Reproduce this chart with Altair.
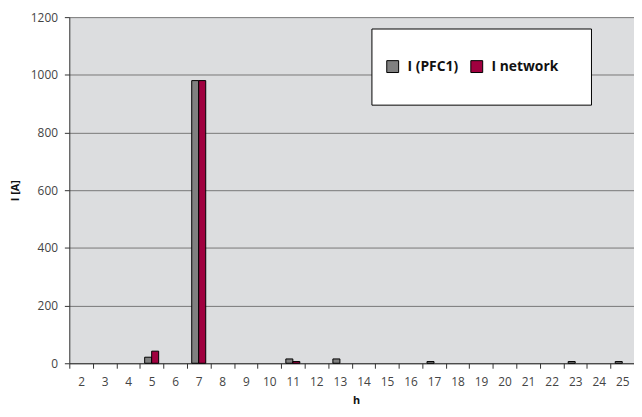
import altair as alt
import pandas as pd

harmonics = list(range(2, 26))
i_pfc1 = [0, 0, 0, 21, 0, 980, 0, 0, 0, 15, 0, 15, 0, 0, 0, 6, 0, 0, 0, 0, 0, 6, 0, 6]
i_network = [0, 0, 0, 42, 0, 980, 0, 0, 0, 6, 0, 0, 0, 0, 0, 0, 0, 0, 0, 0, 0, 0, 0, 0]
series = ["I (PFC1)", "I network"]
colors = ["#808080", "#a0003f"]

rows = []
for h, a, b in zip(harmonics, i_pfc1, i_network):
    rows.append({"h": h, "series": series[0], "value": a})
    rows.append({"h": h, "series": series[1], "value": b})
df = pd.DataFrame(rows)

FONT = "Open Sans"

bars = alt.Chart(df).mark_bar(stroke="black", strokeWidth=1).encode(
    x=alt.X("h:O", title="h",
            scale=alt.Scale(domain=harmonics, paddingInner=0, paddingOuter=0),
            axis=alt.Axis(labelAngle=0, tickBand="extent", labelPadding=8,
                          titlePadding=8, titleFontWeight="bold", titleX=290,
                          domainColor="#333", tickColor="#333", tickSize=5)),
    xOffset=alt.XOffset("series:N", sort=series,
                        scale=alt.Scale(domain=series, paddingOuter=0.68, paddingInner=0)),
    y=alt.Y("value:Q", title="I [A]",
            scale=alt.Scale(domain=[0, 1200]),
            axis=alt.Axis(values=[0, 200, 400, 600, 800, 1000, 1200], format="d",
                          grid=True, gridColor="#777777", gridWidth=1,
                          domainColor="#333", tickColor="#333", tickSize=5,
                          labelPadding=7, titlePadding=10, titleFontWeight="bold")),
    color=alt.Color("series:N", sort=series,
                    scale=alt.Scale(domain=series, range=colors),
                    legend=alt.Legend(title=None, orient="none", direction="horizontal",
                                      legendX=320, legendY=43,
                                      symbolType="square", symbolSize=144,
                                      symbolStrokeColor="black", symbolStrokeWidth=1,
                                      labelFontSize=14, labelFontWeight="bold",
                                      labelColor="#111", columnPadding=10,
                                      labelOffset=8)),
).transform_filter(alt.datum.value > 0)

box = alt.Chart(alt.Data(values=[{}])).mark_rect(fill="white", stroke="black", strokeWidth=1).encode(
    x=alt.value(306), x2=alt.value(528), y=alt.value(12), y2=alt.value(89)
)

chart = alt.layer(box, bars).properties(
    width=571, height=350,
    padding={"left": 62, "top": 7, "right": 0, "bottom": 44},
    autosize=alt.AutoSizeParams(type="none"),
).configure_view(
    fill="#dcdddf", stroke=None
).configure_axis(
    labelFont=FONT, titleFont=FONT, labelFontSize=12, titleFontSize=11,
    labelColor="#444", titleColor="#111"
).configure_legend(
    labelFont=FONT
)

chart.save("out.html", embed_options={"renderer": "svg", "actions": False})
